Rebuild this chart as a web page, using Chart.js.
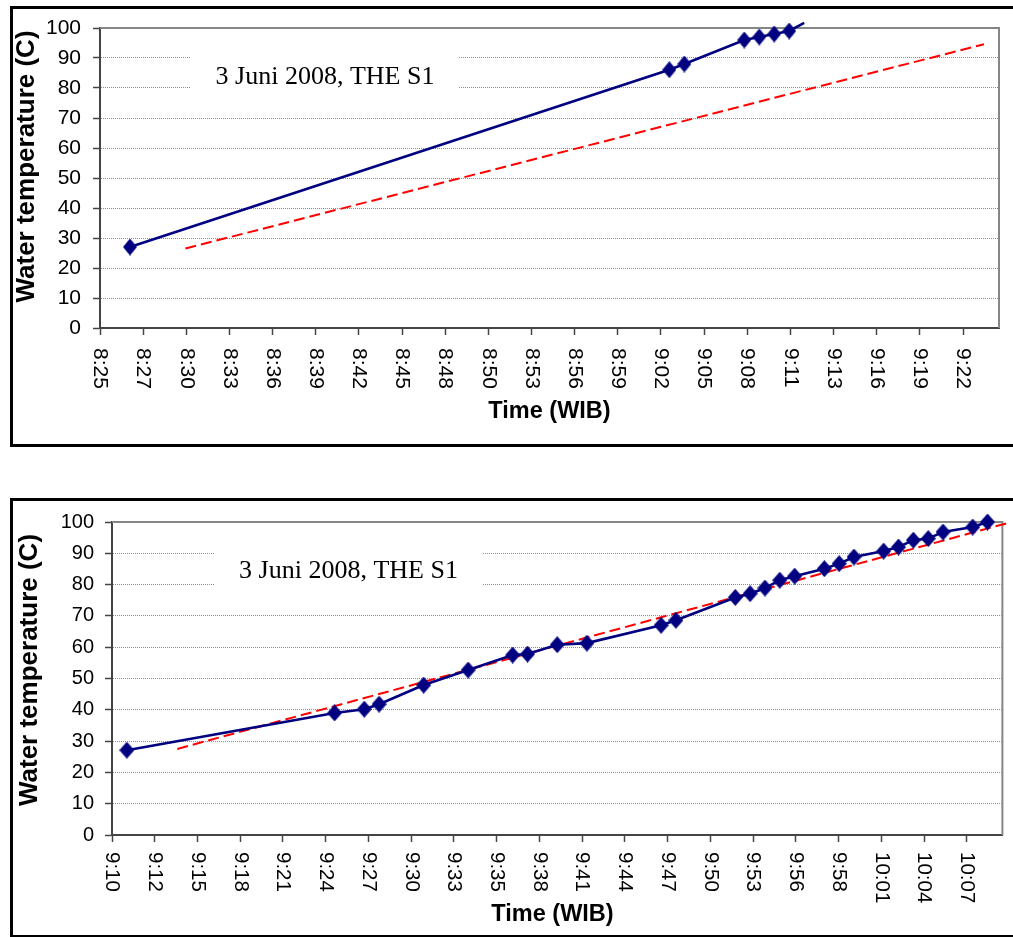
<!DOCTYPE html>
<html><head><meta charset="utf-8">
<script src="https://cdn.jsdelivr.net/npm/chart.js@4/dist/chart.umd.min.js"></script>
<style>
html,body{margin:0;padding:0;background:#fff;width:1013px;height:937px;overflow:hidden;position:relative}
.frame{position:absolute;border:3px solid #000;box-sizing:border-box;pointer-events:none}
canvas{position:absolute;left:0}
</style></head><body>
<canvas id="c1" width="1013" height="470" style="top:0"></canvas>
<canvas id="c2" width="1013" height="467" style="top:470px"></canvas>
<div class="frame" style="left:10px;top:6px;width:1020px;height:441px"></div>
<div class="frame" style="left:10px;top:498px;width:1020px;height:440px"></div>
<script>
// ---------- data (time in minutes after midnight, temperature in C) ----------
const chartTitleText = '3 Juni 2008, THE S1';
const yAxisTitle = 'Water temperature (C)';
const xAxisTitle = 'Time (WIB)';

const chart1Times = [507, 543, 544, 548, 549, 550, 551, 552];
const chart1Temps = [27, 86.1, 88, 96, 97, 98, 99, 101.7];
const chart1TrendTimes = [510.7, 564];
const chart1TrendTemps = [26.5, 94.6];
const chart1TickLabels = ['8:25','8:27','8:30','8:33','8:36','8:39','8:42','8:45','8:48','8:50','8:53','8:56','8:59','9:02','9:05','9:08','9:11','9:13','9:16','9:19','9:22'];

const chart2Times = [551, 565, 567, 568, 571, 574, 577, 578, 580, 582, 587, 588, 592, 593, 594, 595, 596, 598, 599, 600, 602, 603, 604, 605, 606, 608, 609];
const chart2Temps = [27.1, 39.0, 40.2, 41.8, 47.9, 52.7, 57.5, 57.8, 60.8, 61.3, 67.0, 68.6, 75.9, 77.1, 78.9, 81.4, 82.7, 85.1, 86.7, 88.8, 90.7, 92.0, 94.2, 94.7, 96.8, 98.4, 100.0];
const chart2TrendTimes = [554.4, 610.3];
const chart2TrendTemps = [27.5, 99.6];
const chart2TickLabels = ['9:10','9:12','9:15','9:18','9:21','9:24','9:27','9:30','9:33','9:35','9:38','9:41','9:44','9:47','9:50','9:53','9:56','9:58','10:01','10:04','10:07'];

// ---------- helpers ----------
const SANS = '"Liberation Sans", Arial, sans-serif';
const SERIF = '"Liberation Serif", "Times New Roman", serif';

function diamond(w, h, color) {
  const c = document.createElement('canvas');
  c.width = w; c.height = h;
  const g = c.getContext('2d');
  g.fillStyle = color;
  g.beginPath();
  g.moveTo(w / 2, 0); g.lineTo(w, h / 2); g.lineTo(w / 2, h); g.lineTo(0, h / 2);
  g.closePath(); g.fill();
  return c;
}

function pts(xs, ys) { return xs.map((x, i) => ({x: x, y: ys[i]})); }

function build(id, L) {
  const marker = diamond(L.mw, L.mh, '#000080');
  const overlay = {
    id: 'overlay' + id,
    beforeDatasetsDraw(chart) {
      const ctx = chart.ctx, a = chart.chartArea;
      ctx.save();
      ctx.fillStyle = '#fff';
      ctx.fillRect(L.box[0], L.box[1], L.box[2] - L.box[0], L.box[3] - L.box[1]);
      ctx.fillStyle = '#000';
      ctx.font = L.boxFont + 'px ' + SERIF;
      ctx.textAlign = 'center';
      ctx.textBaseline = 'alphabetic';
      ctx.fillText(chartTitleText, (L.box[0] + L.box[2]) / 2, L.boxBase);
      ctx.strokeStyle = '#868686';
      ctx.lineWidth = 2;
      ctx.beginPath();
      ctx.moveTo(a.left, a.top);
      ctx.lineTo(a.right, a.top);
      ctx.lineTo(a.right, a.bottom);
      ctx.stroke();
      ctx.restore();
    },
    afterDraw(chart) {
      const ctx = chart.ctx, xs = chart.scales.x, a = chart.chartArea;
      ctx.save();
      ctx.fillStyle = '#000';
      ctx.font = L.tickFont + 'px ' + SANS;
      ctx.textAlign = 'left';
      ctx.textBaseline = 'middle';
      xs.ticks.forEach((t, i) => {
        const px = xs.getPixelForValue(t.value);
        ctx.save();
        ctx.translate(px, a.bottom + L.labelGap);
        ctx.rotate(Math.PI / 2);
        ctx.fillText(L.labels[i], 0, 0);
        ctx.restore();
      });
      ctx.font = 'bold ' + L.xtFont + 'px ' + SANS;
      ctx.textAlign = 'center';
      ctx.fillText(xAxisTitle, L.xt[0], L.xt[1]);
      ctx.save();
      ctx.translate(L.yt[0], L.yt[1]);
      ctx.rotate(-Math.PI / 2);
      ctx.font = 'bold ' + L.ytFont + 'px ' + SANS;
      ctx.fillText(yAxisTitle, 0, 0);
      ctx.restore();
      ctx.restore();
    }
  };

  return new Chart(document.getElementById(id), {
    type: 'scatter',
    data: {
      datasets: [
        {
          data: pts(L.times, L.temps),
          showLine: true,
          borderColor: '#000080',
          borderWidth: 2.6,
          pointStyle: c => (c.raw && c.raw.y > 100.05) ? false : marker,
          pointRadius: 8,
          clip: false,
          order: 1
        },
        {
          data: pts(L.trendTimes, L.trendTemps),
          showLine: true,
          borderColor: '#ff0000',
          borderWidth: 2,
          borderDash: [11, 5],
          pointRadius: 0,
          clip: false,
          order: 2
        }
      ]
    },
    options: {
      responsive: false,
      devicePixelRatio: 1,
      animation: false,
      events: [],
      layout: {padding: {left: 0, top: L.top, right: L.right, bottom: 0}},
      plugins: {legend: {display: false}, tooltip: {enabled: false}, title: {display: false}},
      scales: {
        x: {
          type: 'linear',
          min: L.xmin, max: L.xmax,
          afterBuildTicks: s => { s.ticks = L.labels.map((_, i) => ({value: L.xmin + i * L.step})); },
          afterFit: s => { s.height = L.xh; },
          ticks: {display: false},
          grid: {drawOnChartArea: false, drawTicks: true, tickLength: 7, tickColor: '#444', tickWidth: 1.5},
          border: {color: '#444', width: 2}
        },
        y: {
          type: 'linear',
          min: 0, max: 100,
          afterFit: s => { s.width = L.yw; },
          ticks: {stepSize: 10, color: '#000', font: {family: SANS, size: L.ytickFont}, padding: L.ypad},
          grid: {color: '#8c8c8c', lineWidth: 1, tickLength: 7, tickColor: '#444', tickWidth: 1.5, tickBorderDash: []},
          border: {color: '#444', width: 2, dash: [1, 1]}
        }
      }
    },
    plugins: [overlay]
  });
}

build('c1', {
  times: chart1Times, temps: chart1Temps, trendTimes: chart1TrendTimes, trendTemps: chart1TrendTemps,
  labels: chart1TickLabels, xmin: 505, xmax: 565, step: 2.88,
  top: 28, right: 14, xh: 142, yw: 100, ypad: 12, ytickFont: 21, tickFont: 21, labelGap: 20,
  mw: 14, mh: 17,
  box: [191, 45, 459, 105], boxBase: 84, boxFont: 26,
  xt: [549.5, 412], xtFont: 23.5, yt: [27, 166.5], ytFont: 26
});

build('c2', {
  times: chart2Times, temps: chart2Temps, trendTimes: chart2TrendTimes, trendTemps: chart2TrendTemps,
  labels: chart2TickLabels, xmin: 550, xmax: 610, step: 2.88,
  top: 52, right: 8, xh: 102, yw: 112, ypad: 11, ytickFont: 20, tickFont: 20.5, labelGap: 17,
  mw: 15, mh: 17,
  box: [215, 70, 482, 130], boxBase: 108, boxFont: 26,
  xt: [552.5, 445], xtFont: 23.5, yt: [30, 200], ytFont: 26
});
</script>
</body></html>
